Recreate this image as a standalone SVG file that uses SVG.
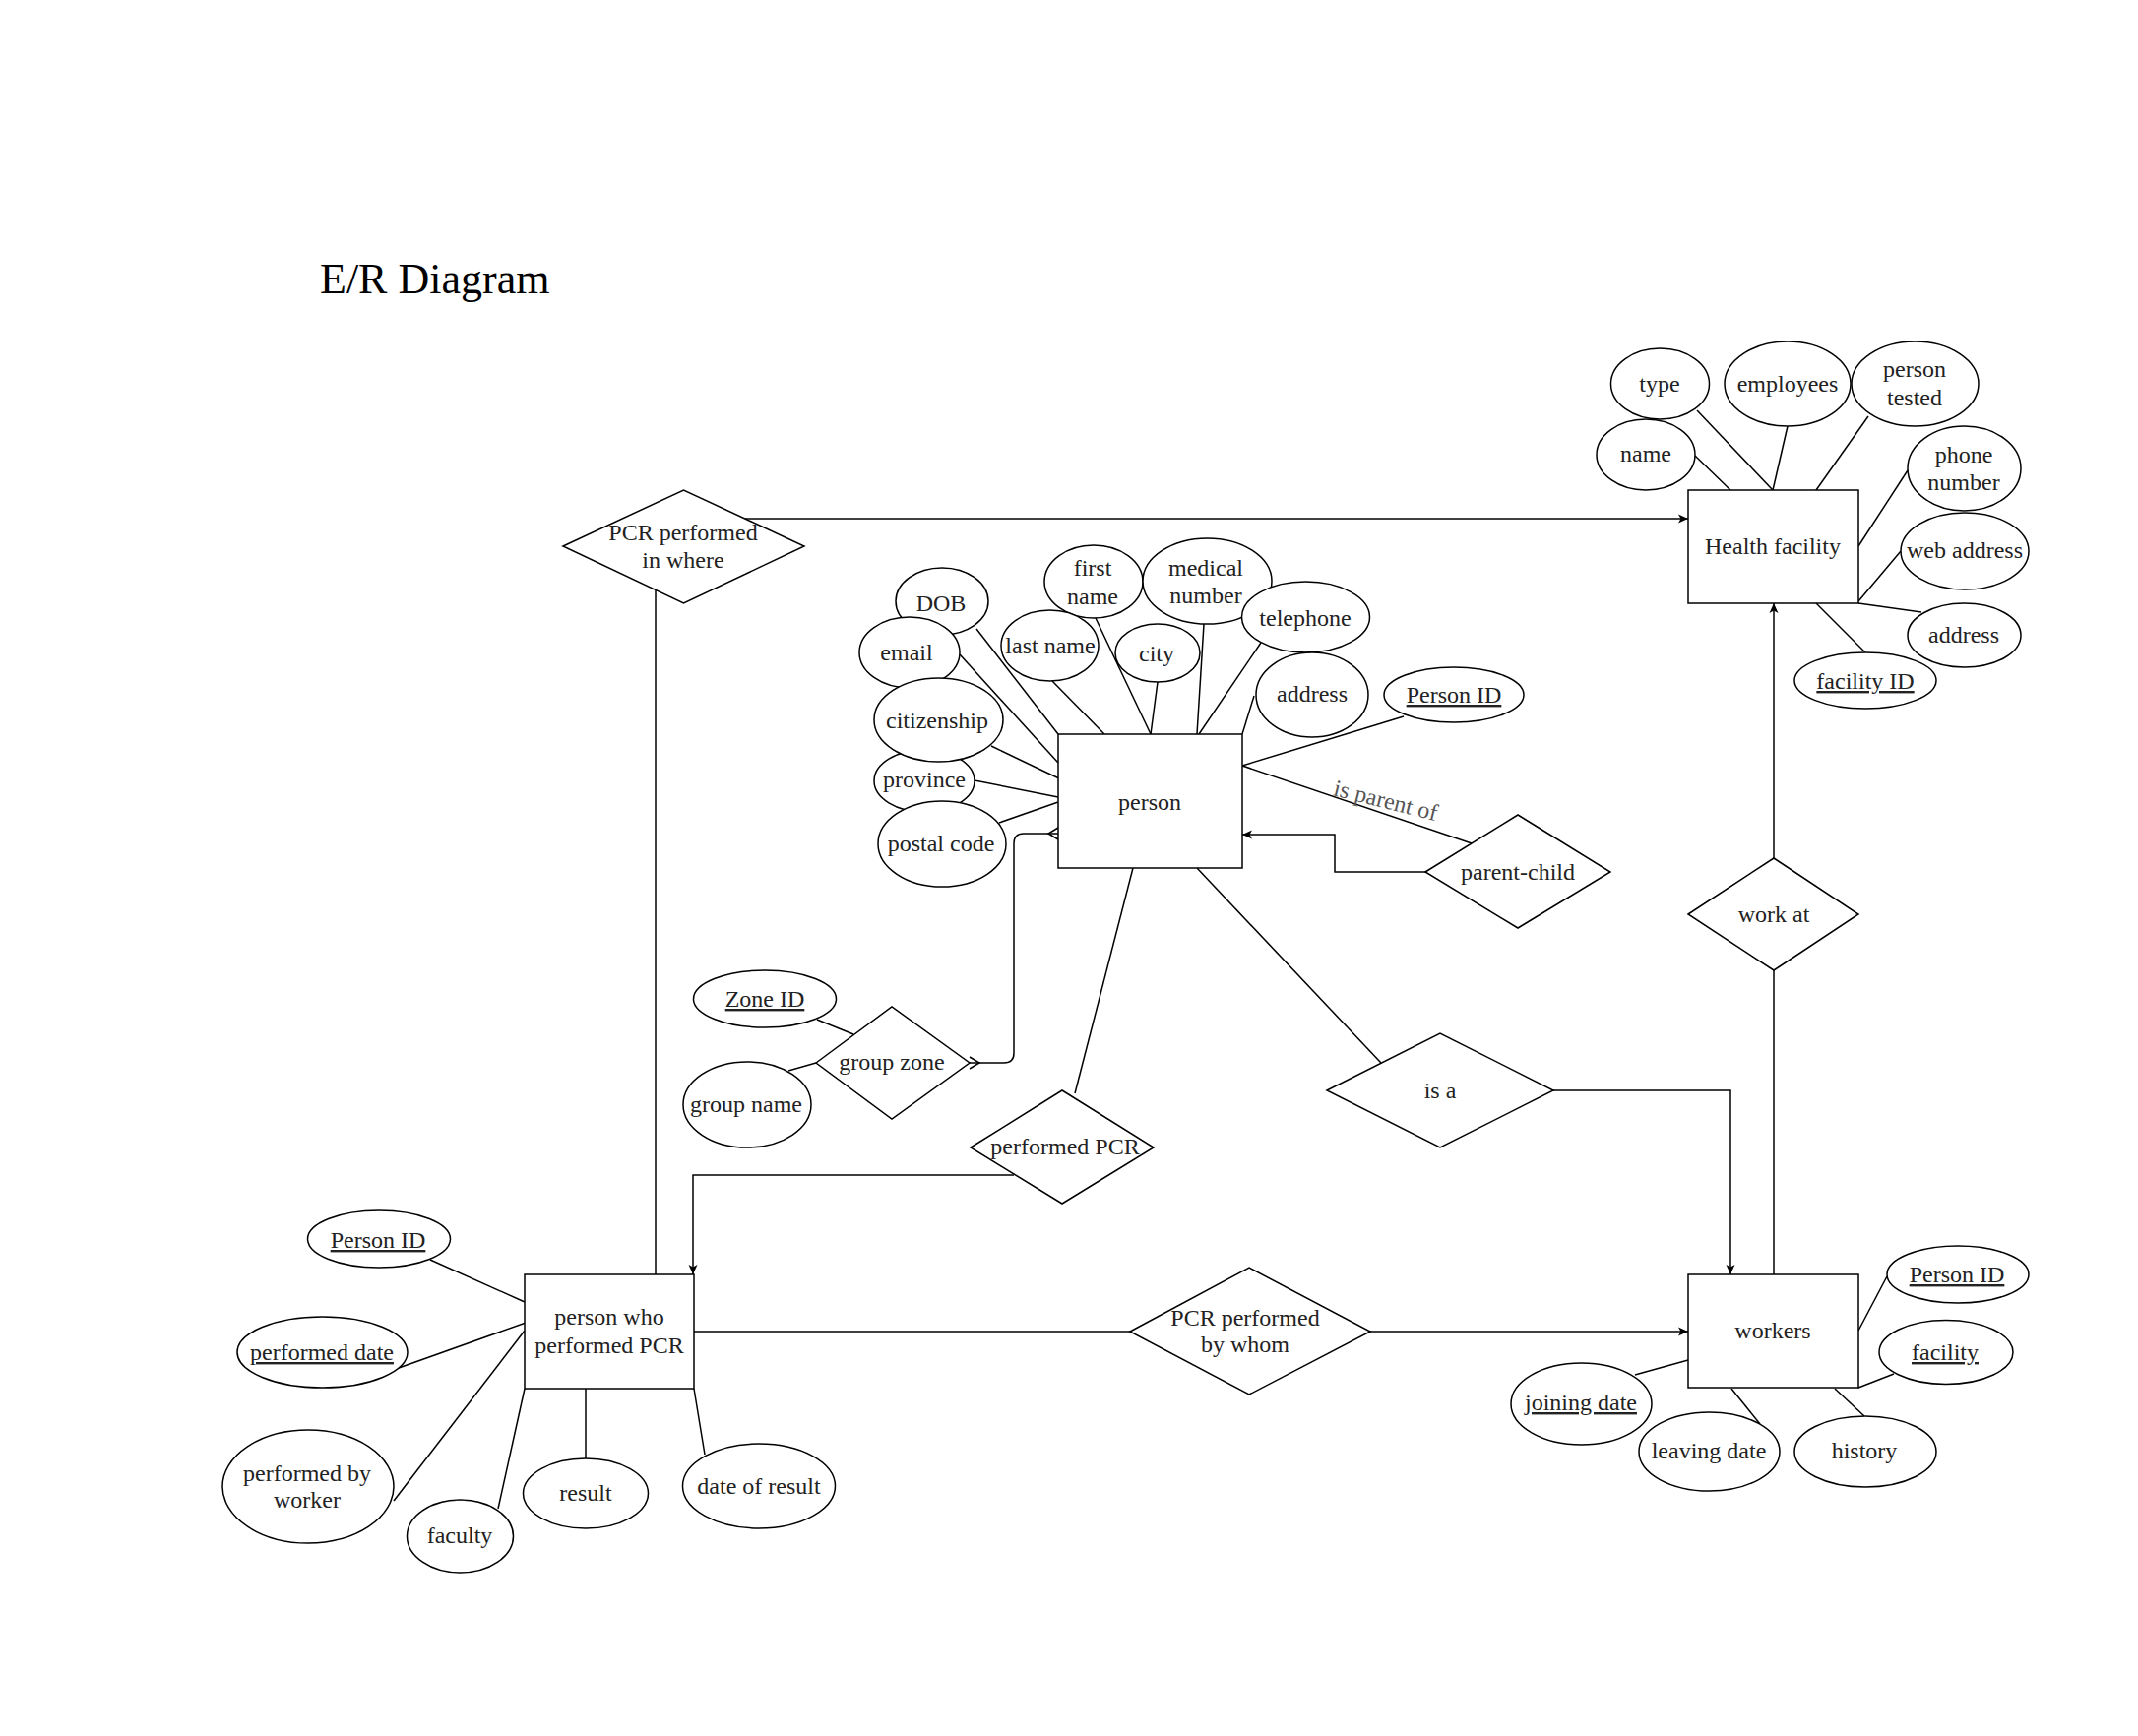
<svg xmlns="http://www.w3.org/2000/svg" width="2172" height="1764" viewBox="0 0 2172 1764">
<style>
.n{fill:#fff;stroke:#000;stroke-width:1.5}
.c{fill:none;stroke:#000;stroke-width:1.5}
text{font-family:"Liberation Serif","Times New Roman",serif;font-size:24px;fill:#222;text-anchor:middle}
.u{text-decoration:underline}
.t{font-size:44px;text-anchor:start;fill:#000}
.lbl{fill:#555}
</style>
<defs>
<marker id="arr" markerWidth="12" markerHeight="12" refX="11" refY="6" orient="auto" markerUnits="userSpaceOnUse">
<path d="M1,1.5 L11,6 L1,10.5 L3.5,6 Z" fill="#000"/>
</marker>
</defs>
<rect width="2172" height="1764" fill="#fff"/>
<text class="t" x="325" y="298">E/R Diagram</text>

<g id="connectors">
<!-- Health facility attributes -->
<line class="c" x1="1722" y1="463" x2="1758" y2="498"/>
<line class="c" x1="1724" y1="417" x2="1801" y2="498"/>
<line class="c" x1="1816" y1="433" x2="1801" y2="498"/>
<line class="c" x1="1898" y1="423" x2="1845" y2="498"/>
<line class="c" x1="1938" y1="478" x2="1888" y2="555"/>
<line class="c" x1="1931" y1="560" x2="1888" y2="611"/>
<line class="c" x1="1952" y1="622" x2="1888" y2="613"/>
<line class="c" x1="1895" y1="663" x2="1845" y2="613"/>
<!-- person attributes -->
<line class="c" x1="992" y1="639" x2="1075" y2="746"/>
<line class="c" x1="975" y1="665" x2="1075" y2="775"/>
<line class="c" x1="1007" y1="758" x2="1080" y2="793"/>
<line class="c" x1="990" y1="793" x2="1075" y2="810"/>
<line class="c" x1="1015" y1="836" x2="1075" y2="815"/>
<line class="c" x1="1069" y1="692" x2="1122" y2="746"/>
<line class="c" x1="1113" y1="628" x2="1169" y2="746"/>
<line class="c" x1="1176" y1="693" x2="1169" y2="746"/>
<line class="c" x1="1223" y1="634" x2="1216" y2="746"/>
<line class="c" x1="1281" y1="653" x2="1218" y2="746"/>
<line class="c" x1="1274" y1="707" x2="1262" y2="746"/>
<line class="c" x1="1426" y1="728" x2="1262" y2="778"/>
<line class="c" x1="1262" y1="778" x2="1495" y2="857"/>
<text class="lbl" x="1406" y="821" transform="rotate(14 1406 821)">is parent of</text>
<path class="c" d="M1448,886 H1356 V848 H1262" marker-end="url(#arr)"/>
<!-- group zone -->
<line class="c" x1="830" y1="1036" x2="867" y2="1051"/>
<line class="c" x1="801" y1="1088" x2="829" y2="1080"/>
<path class="c" d="M985,1080 H1020 Q1030,1080 1030,1070 V857 Q1030,847 1040,847 H1075"/>
<path class="c" d="M985,1074 L995,1080 L985,1086"/>
<path class="c" d="M1075,841 L1065,847 L1075,853"/>
<!-- person to relationships -->
<line class="c" x1="1151" y1="882" x2="1092" y2="1111"/>
<line class="c" x1="1216" y1="882" x2="1403" y2="1080"/>
<path class="c" d="M1030,1194 H704 V1295" marker-end="url(#arr)"/>
<path class="c" d="M1578,1108 H1758 V1295" marker-end="url(#arr)"/>
<!-- PCR performed in where -->
<path class="c" d="M755,527 H1715" marker-end="url(#arr)"/>
<line class="c" x1="666" y1="599" x2="666" y2="1295"/>
<!-- work at -->
<path class="c" d="M1802,872 V613" marker-end="url(#arr)"/>
<line class="c" x1="1802" y1="986" x2="1802" y2="1295"/>
<!-- PCR performed by whom -->
<line class="c" x1="705" y1="1353" x2="1148" y2="1353"/>
<path class="c" d="M1392,1353 H1715" marker-end="url(#arr)"/>
<!-- person who performed PCR attributes -->
<line class="c" x1="437" y1="1280" x2="533" y2="1323"/>
<line class="c" x1="405" y1="1390" x2="537" y2="1343"/>
<line class="c" x1="400" y1="1525" x2="533" y2="1352"/>
<line class="c" x1="506" y1="1533" x2="533" y2="1411"/>
<line class="c" x1="595" y1="1482" x2="595" y2="1408"/>
<line class="c" x1="716" y1="1478" x2="705" y2="1411"/>
<!-- workers attributes -->
<line class="c" x1="1917" y1="1297" x2="1888" y2="1352"/>
<line class="c" x1="1924" y1="1396" x2="1888" y2="1410"/>
<line class="c" x1="1661" y1="1397" x2="1715" y2="1382"/>
<line class="c" x1="1788" y1="1447" x2="1759" y2="1411"/>
<line class="c" x1="1894" y1="1439" x2="1864" y2="1411"/>
</g>

<!-- Entities -->
<g id="health-facility"><rect class="n" x="1715" y="498" width="173" height="115"/><text x="1801" y="563">Health facility</text></g>
<g id="person"><rect class="n" x="1075" y="746" width="187" height="136"/><text x="1168" y="823">person</text></g>
<g id="person-who-performed-pcr"><rect class="n" x="533" y="1295" width="172" height="116"/><text x="619" y="1346">person who</text><text x="619" y="1375">performed PCR</text></g>
<g id="workers"><rect class="n" x="1715" y="1295" width="173" height="115"/><text x="1801" y="1360">workers</text></g>

<!-- Relationships -->
<g id="pcr-performed-in-where"><polygon class="n" points="572,555 694.5,498 817,555 694.5,613"/><text x="694" y="549">PCR performed</text><text x="694" y="577">in where</text></g>
<g id="parent-child"><polygon class="n" points="1448,886 1542,828 1636,886 1542,943"/><text x="1542" y="894">parent-child</text></g>
<g id="work-at"><polygon class="n" points="1715,929 1802,872 1888,929 1802,986"/><text x="1802" y="937">work at</text></g>
<g id="group-zone"><polygon class="n" points="829,1080 906,1023 985,1080 906,1137"/><text x="906" y="1087">group zone</text></g>
<g id="is-a"><polygon class="n" points="1348,1108 1463,1050 1578,1108 1463,1166"/><text x="1463" y="1116">is a</text></g>
<g id="performed-pcr"><polygon class="n" points="986,1166 1079,1108 1172,1166 1079,1223"/><text x="1082" y="1173">performed PCR</text></g>
<g id="pcr-performed-by-whom"><polygon class="n" points="1148,1353 1269,1288 1392,1353 1269,1417"/><text x="1265" y="1347">PCR performed</text><text x="1265" y="1374">by whom</text></g>

<!-- Health facility attributes -->
<g id="hf-type"><ellipse class="n" cx="1686.5" cy="390" rx="50" ry="36"/><text x="1686" y="398">type</text></g>
<g id="hf-employees"><ellipse class="n" cx="1816" cy="390" rx="64" ry="43"/><text x="1816" y="398">employees</text></g>
<g id="hf-person-tested"><ellipse class="n" cx="1945.5" cy="390" rx="64.5" ry="43"/><text x="1945" y="383">person</text><text x="1945" y="412">tested</text></g>
<g id="hf-name"><ellipse class="n" cx="1672" cy="462" rx="50" ry="36"/><text x="1672" y="469">name</text></g>
<g id="hf-phone"><ellipse class="n" cx="1995.5" cy="476" rx="57.5" ry="43"/><text x="1995" y="470">phone</text><text x="1995" y="498">number</text></g>
<g id="hf-web"><ellipse class="n" cx="1996" cy="560" rx="65" ry="39"/><text x="1996" y="567">web address</text></g>
<g id="hf-address"><ellipse class="n" cx="1995.5" cy="645.5" rx="57.5" ry="32.5"/><text x="1995" y="653">address</text></g>
<g id="hf-facility-id"><ellipse class="n" cx="1895" cy="691.5" rx="72" ry="28.5"/><text class="u" x="1895" y="700">facility ID</text></g>

<!-- person attributes -->
<g id="p-dob"><ellipse class="n" cx="957" cy="611" rx="47" ry="34"/><text x="956" y="621">DOB</text></g>
<g id="p-email"><ellipse class="n" cx="924" cy="663" rx="51" ry="36"/><text x="921" y="671">email</text></g>
<g id="p-province"><ellipse class="n" cx="939" cy="793.5" rx="51" ry="31.5"/><text x="939" y="800">province</text></g>
<g id="p-citizenship"><ellipse class="n" cx="953.5" cy="731.5" rx="65.5" ry="42.5"/><text x="952" y="740">citizenship</text></g>
<g id="p-postal"><ellipse class="n" cx="957" cy="857.5" rx="65" ry="43.5"/><text x="956" y="865">postal code</text></g>
<g id="p-first-name"><ellipse class="n" cx="1111" cy="591" rx="50" ry="37"/><text x="1110" y="585">first</text><text x="1110" y="614">name</text></g>
<g id="p-medical"><ellipse class="n" cx="1226.5" cy="590.5" rx="65.5" ry="43.5"/><text x="1225" y="585">medical</text><text x="1225" y="613">number</text></g>
<g id="p-last-name"><ellipse class="n" cx="1066.5" cy="656" rx="49.5" ry="36"/><text x="1067" y="664">last name</text></g>
<g id="p-city"><ellipse class="n" cx="1176" cy="663.5" rx="43" ry="29.5"/><text x="1175" y="672">city</text></g>
<g id="p-telephone"><ellipse class="n" cx="1326.5" cy="627" rx="65" ry="36"/><text x="1326" y="636">telephone</text></g>
<g id="p-address"><ellipse class="n" cx="1333" cy="706" rx="57" ry="43"/><text x="1333" y="713">address</text></g>
<g id="p-person-id"><ellipse class="n" cx="1477" cy="706" rx="71" ry="28"/><text class="u" x="1477" y="714">Person ID</text></g>

<!-- group zone attributes -->
<g id="gz-zone-id"><ellipse class="n" cx="777" cy="1015" rx="72.5" ry="29"/><text class="u" x="777" y="1023">Zone ID</text></g>
<g id="gz-group-name"><ellipse class="n" cx="759" cy="1122.5" rx="65" ry="43.5"/><text x="758" y="1130">group name</text></g>

<!-- person who performed PCR attributes -->
<g id="pp-person-id"><ellipse class="n" cx="385" cy="1259" rx="72.5" ry="29"/><text class="u" x="384" y="1268">Person ID</text></g>
<g id="pp-performed-date"><ellipse class="n" cx="327.5" cy="1374" rx="86.5" ry="36"/><text class="u" x="327" y="1382">performed date</text></g>
<g id="pp-performed-by"><ellipse class="n" cx="313" cy="1510.5" rx="87" ry="57.5"/><text x="312" y="1505">performed by</text><text x="312" y="1532">worker</text></g>
<g id="pp-faculty"><ellipse class="n" cx="467.5" cy="1561" rx="54" ry="37"/><text x="467" y="1568">faculty</text></g>
<g id="pp-result"><ellipse class="n" cx="595" cy="1517.5" rx="63.5" ry="35.5"/><text x="595" y="1525">result</text></g>
<g id="pp-date-of-result"><ellipse class="n" cx="771" cy="1510" rx="77.5" ry="43"/><text x="771" y="1518">date of result</text></g>

<!-- workers attributes -->
<g id="w-person-id"><ellipse class="n" cx="1989" cy="1295" rx="72" ry="29"/><text class="u" x="1988" y="1303">Person ID</text></g>
<g id="w-facility"><ellipse class="n" cx="1977" cy="1374" rx="68" ry="32.5"/><text class="u" x="1976" y="1382">facility</text></g>
<g id="w-joining-date"><ellipse class="n" cx="1606.5" cy="1426.5" rx="71.5" ry="41.5"/><text class="u" x="1606" y="1433">joining date</text></g>
<g id="w-leaving-date"><ellipse class="n" cx="1736.5" cy="1475" rx="71.5" ry="40"/><text x="1736" y="1482">leaving date</text></g>
<g id="w-history"><ellipse class="n" cx="1895" cy="1475" rx="72" ry="36"/><text x="1894" y="1482">history</text></g>
</svg>
